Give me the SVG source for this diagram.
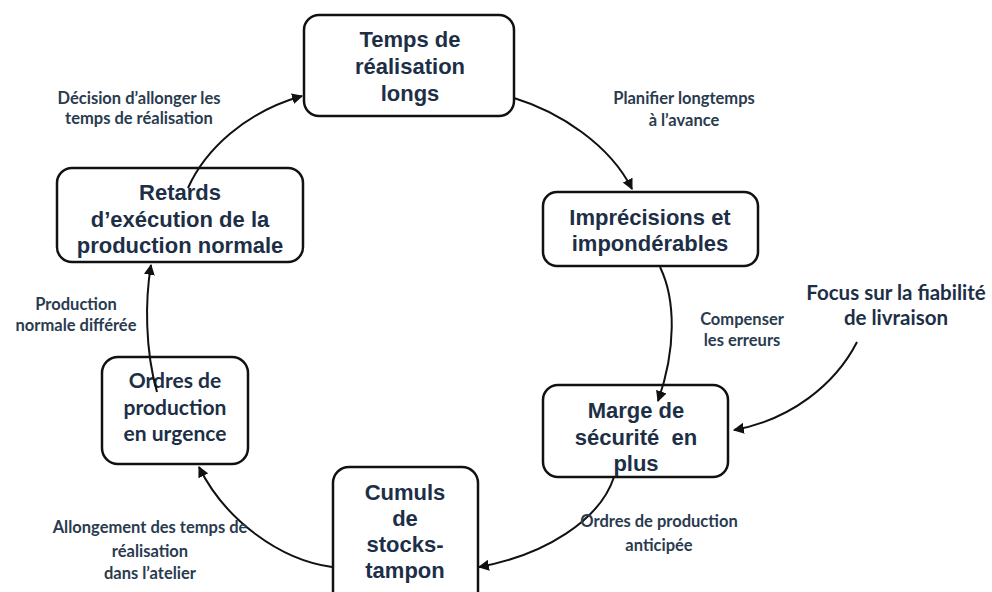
<svg xmlns="http://www.w3.org/2000/svg" width="992" height="592" viewBox="0 0 992 592">
<defs>
<marker id="ah" viewBox="0 0 10 10" refX="9" refY="5" markerWidth="11" markerHeight="11" markerUnits="userSpaceOnUse" orient="auto">
<path d="M0,0 L10,5 L0,10 Z" fill="#111"/>
</marker>
</defs>
<style>
.box{fill:#fff;stroke:#111;stroke-width:2.5}
.nt{font-family:"Liberation Sans",Arial,sans-serif;font-weight:bold;font-size:22px;fill:#1d2f47;text-anchor:middle}
.nc{font-family:Lato,"Liberation Sans",sans-serif;font-weight:bold;font-size:21px;fill:#1d2f47;text-anchor:middle}
.lb{font-family:Lato,"Liberation Sans",sans-serif;font-weight:bold;font-size:16.5px;fill:#2a3b4f;text-anchor:middle}
.lf{font-family:Lato,"Liberation Sans",sans-serif;font-weight:bold;font-size:20.5px;fill:#1d2f47;text-anchor:middle}
.cn{fill:none;stroke:#111;stroke-width:2;marker-end:url(#ah)}
</style>
<rect width="992" height="592" fill="#fff"/>
<g id="n1">
<rect class="box" x="304" y="15" width="210" height="101" rx="15"/>
<text class="nt" x="410" y="47">Temps de</text>
<text class="nt" x="410" y="74">réalisation</text>
<text class="nt" x="410" y="101">longs</text>
</g>
<g id="n2">
<rect class="box" x="543" y="192" width="215" height="74" rx="14"/>
<text class="nt" x="650" y="225">Imprécisions et</text>
<text class="nt" x="650" y="251">impondérables</text>
</g>
<g id="n3">
<rect class="box" x="543" y="385" width="185" height="92" rx="15"/>
<text class="nt" x="636" y="418">Marge de</text>
<text class="nt" x="636" y="445" xml:space="preserve">sécurité  en</text>
<text class="nt" x="636" y="471">plus</text>
</g>
<g id="n4">
<rect class="box" x="333" y="467" width="145" height="140" rx="16"/>
<text class="nt" x="405" y="500">Cumuls</text>
<text class="nt" x="405" y="526">de</text>
<text class="nt" x="405" y="552">stocks-</text>
<text class="nt" x="405" y="578">tampon</text>
</g>
<g id="n5">
<rect class="box" x="102" y="357" width="146" height="107" rx="16"/>
<text class="nc" x="175" y="388">Ordres de</text>
<text class="nc" x="175" y="415">production</text>
<text class="nc" x="175" y="441">en urgence</text>
</g>
<g id="n6">
<rect class="box" x="57" y="168" width="246" height="94" rx="15"/>
<text class="nt" x="180" y="200">Retards</text>
<text class="nt" x="180" y="227">d’exécution de la</text>
<text class="nt" x="180" y="253">production normale</text>
</g>
<g id="connectors">
<path class="cn" d="M188,188 C205,150 245,112 302,96"/>
<path class="cn" d="M514,98 C560,112 610,145 632,189"/>
<path class="cn" d="M660,267 C676,300 676,350 658,401"/>
<path class="cn" d="M857,342 C835,385 790,420 734,430"/>
<path class="cn" d="M614,477 C600,520 545,555 479,567"/>
<path class="cn" d="M332,567 C280,560 225,520 199,467"/>
<path class="cn" d="M157,392 C145,350 145,300 151,265"/>
</g>
<g id="labels">
<text class="lb" x="139" y="104">Décision d’allonger les</text>
<text class="lb" x="139" y="124">temps de réalisation</text>
<text class="lb" x="684" y="104">Planifier longtemps</text>
<text class="lb" x="684" y="126">à l’avance</text>
<text class="lb" x="742" y="325">Compenser</text>
<text class="lb" x="742" y="346">les erreurs</text>
<text class="lf" x="896" y="300">Focus sur la fiabilité</text>
<text class="lf" x="896" y="325">de livraison</text>
<text class="lb" x="76" y="310">Production</text>
<text class="lb" x="76" y="331">normale différée</text>
<text class="lb" x="150" y="533">Allongement des temps de</text>
<text class="lb" x="150" y="557">réalisation</text>
<text class="lb" x="150" y="579">dans l’atelier</text>
<text class="lb" x="659" y="527">Ordres de production</text>
<text class="lb" x="659" y="551">anticipée</text>
</g>
</svg>
